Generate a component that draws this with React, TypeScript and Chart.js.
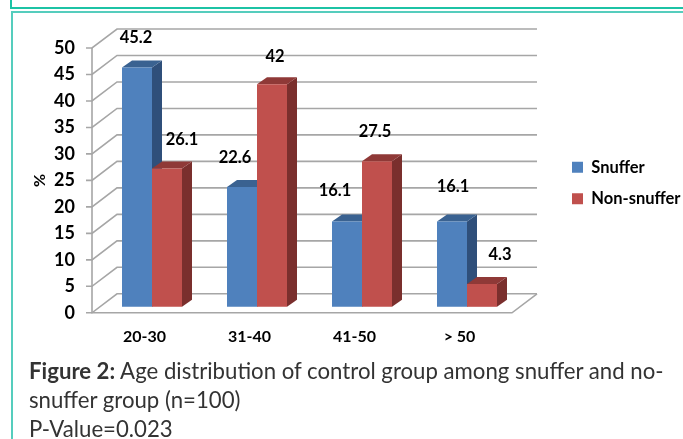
import React, { useEffect, useRef } from "react";
import { Chart, registerables } from "chart.js";

Chart.register(...registerables);

const categories = ["20-30", "31-40", "41-50", "> 50"];
const snuffer = [45.2, 22.6, 16.1, 16.1];
const nonSnuffer = [26.1, 42, 27.5, 4.3];
const yTicks = [0, 5, 10, 15, 20, 25, 30, 35, 40, 45, 50];

const seriesColors = ["#4F81BD", "#C0504D"];
const sideColors = ["#2F4F7A", "#7A2F2D"];
const topColors = ["#3A6291", "#8F3937"];

// label offsets relative to each bar's centre-top (dataset, category)
const labelOffsets = [
  [[-1, -30], [-7, -29], [-12, -31], [1, -35]],
  [[15, -29], [3, -28], [-2, -29], [18, -29]],
];

const WALL_DX = 25;
const WALL_DY = -19;
const BAR_DX = 7.5;
const BAR_DY = -6;
const SIDE_DX = 10;
const SIDE_DY = -7;
const LEGEND_SHIFT = -21;

const box3d = {
  id: "box3d",
  beforeLayout(chart: any) {
    const legend = chart.legend;
    if (legend && !legend.__patched) {
      const fit = legend.fit;
      legend.fit = function () {
        fit.call(this);
        this.width = 126;
      };
      legend.__patched = true;
    }
  },
  afterLayout(chart: any) {
    const legend = chart.legend;
    if (legend) {
      legend.top += LEGEND_SHIFT;
      legend.bottom += LEGEND_SHIFT;
    }
  },
  beforeDatasetsDraw(chart: any) {
    const { ctx, scales } = chart;
    const y = scales.y;
    const x = scales.x;
    const left = x.left;
    const right = x.right;
    ctx.save();
    ctx.strokeStyle = "#A6A6A6";
    ctx.lineWidth = 1.6;
    yTicks.forEach((t) => {
      const py = y.getPixelForValue(t);
      ctx.beginPath();
      ctx.moveTo(left - 6, py);
      ctx.lineTo(left, py);
      ctx.lineTo(left + WALL_DX, py + WALL_DY);
      ctx.lineTo(right + WALL_DX, py + WALL_DY);
      ctx.stroke();
    });
    const y0 = y.getPixelForValue(0);
    const y50 = y.getPixelForValue(50);
    ctx.beginPath();
    ctx.moveTo(left, y50);
    ctx.lineTo(left, y0);
    ctx.lineTo(right, y0);
    ctx.lineTo(right + WALL_DX, y0 + WALL_DY);
    ctx.stroke();
    ctx.restore();

    // Shift the bars to the floor of the box; native fronts are drawn within this translation.
    ctx.save();
    ctx.translate(BAR_DX, BAR_DY);
    chart.data.datasets.forEach((_: any, i: number) => {
      chart.getDatasetMeta(i).data.forEach((el: any) => {
        const l = el.x - el.width / 2;
        const r = el.x + el.width / 2;
        ctx.fillStyle = sideColors[i];
        ctx.beginPath();
        ctx.moveTo(r, el.y);
        ctx.lineTo(r + SIDE_DX, el.y + SIDE_DY);
        ctx.lineTo(r + SIDE_DX, el.base + SIDE_DY);
        ctx.lineTo(r, el.base);
        ctx.closePath();
        ctx.fill();
        ctx.fillStyle = topColors[i];
        ctx.beginPath();
        ctx.moveTo(l, el.y);
        ctx.lineTo(l + SIDE_DX, el.y + SIDE_DY);
        ctx.lineTo(r + SIDE_DX, el.y + SIDE_DY);
        ctx.lineTo(r, el.y);
        ctx.closePath();
        ctx.fill();
      });
    });
  },
  afterDatasetsDraw(chart: any) {
    const { ctx } = chart;
    ctx.restore();
    ctx.save();
    ctx.fillStyle = "#000";
    ctx.font = "bold 16.5px Lato";
    ctx.textAlign = "center";
    ctx.textBaseline = "middle";
    chart.data.datasets.forEach((ds: any, i: number) => {
      chart.getDatasetMeta(i).data.forEach((el: any, j: number) => {
        const [ox, oy] = labelOffsets[i][j];
        ctx.fillText(String(ds.data[j]), el.x + BAR_DX + ox, el.y + BAR_DY + oy);
      });
    });
    ctx.restore();
  },
};

export default function App() {
  const ref = useRef<HTMLCanvasElement>(null);
  useEffect(() => {
    const chart = new Chart(ref.current!, {
      type: "bar",
      data: {
        labels: categories,
        datasets: [
          { label: "Snuffer", data: snuffer, backgroundColor: seriesColors[0], clip: false },
          { label: "Non-snuffer", data: nonSnuffer, backgroundColor: seriesColors[1], clip: false },
        ],
      },
      options: {
        responsive: false,
        animation: false,
        layout: { padding: { left: 30, top: 48, right: 0, bottom: 79 } },
        datasets: { bar: { categoryPercentage: 60 / 105, barPercentage: 1 } },
        plugins: {
          tooltip: { enabled: false },
          title: { display: false },
          legend: {
            position: "right",
            labels: {
              boxWidth: 11,
              boxHeight: 11,
              padding: 15,
              color: "#000",
              font: { family: "Lato", weight: "bold", size: 16.5 },
            },
          },
        },
        scales: {
          x: {
            grid: { display: false, drawTicks: false },
            border: { display: false },
            ticks: { color: "#000", padding: 14, font: { family: "Lato", weight: "bold", size: 16 } },
          },
          y: {
            min: 0,
            max: 50,
            afterBuildTicks: (s: any) => {
              s.ticks = yTicks.map((v) => ({ value: v }));
            },
            afterFit: (s: any) => {
              s.width = 62;
            },
            grid: { display: false, drawTicks: false },
            border: { display: false },
            ticks: { color: "#000", padding: 17, font: { family: "Lato", weight: "bold", size: 18 } },
            title: {
              display: true,
              text: "%",
              color: "#000",
              padding: { top: 0, bottom: 2 },
              font: { family: "Lato", weight: "bold", size: 16 },
            },
          },
          gap: {
            type: "linear",
            position: "right",
            display: true,
            grid: { display: false, drawTicks: false },
            border: { display: false },
            ticks: { display: false },
            afterFit: (s: any) => {
              s.width = 45;
            },
          },
        },
      },
      plugins: [box3d],
    } as any);
    return () => chart.destroy();
  }, []);

  return (
    <div style={{ position: "absolute", left: 0, top: 0, width: 683, height: 439, overflow: "hidden", background: "#fff" }}>
      <div style={{ position: "absolute", left: 10, top: -10, width: 700, height: 15, border: "2px solid #1CC3A5" }} />
      <div style={{ position: "absolute", left: 11, top: 11, width: 700, height: 440, border: "2px solid #55CDBD" }} />
      <canvas ref={ref} width={683} height={439} style={{ position: "absolute", left: 0, top: 0, display: "block" }} />
      <div
        style={{
          position: "absolute",
          left: 29,
          top: 356,
          width: 654,
          fontFamily: "Lato",
          fontSize: 22.2,
          lineHeight: "29px",
          color: "#333",
          whiteSpace: "nowrap",
        }}
      >
        <b>Figure 2:</b> Age distribution of control group among snuffer and no-
        <br />
        snuffer group (n=100)
        <br />
        P-Value=0.023
      </div>
    </div>
  );
}
